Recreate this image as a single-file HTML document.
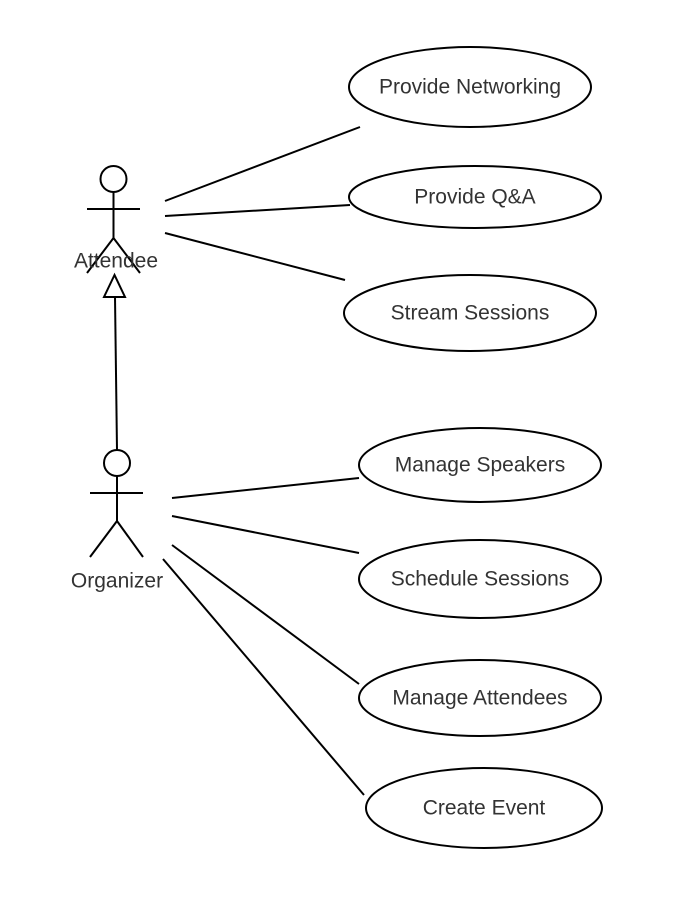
<!DOCTYPE html>
<html><head><meta charset="utf-8"><style>
html,body{margin:0;padding:0;background:#fff;width:692px;height:900px;overflow:hidden}
text{font-family:"Liberation Sans","DejaVu Sans",sans-serif;font-size:21px;fill:#333;text-anchor:middle;dominant-baseline:central}
</style></head><body>
<svg width="692" height="900" viewBox="0 0 692 900" xmlns="http://www.w3.org/2000/svg">
<g fill="none" stroke="#000" stroke-width="2">
<circle cx="113.5" cy="179" r="13"/>
<line x1="87" y1="209" x2="140" y2="209"/>
<line x1="113.5" y1="192" x2="113.5" y2="238"/>
<line x1="113.5" y1="238" x2="87" y2="273"/>
<line x1="113.5" y1="238" x2="140" y2="273"/>
<circle cx="117" cy="463" r="13"/>
<line x1="90" y1="493" x2="143" y2="493"/>
<line x1="117" y1="476" x2="117" y2="521"/>
<line x1="117" y1="521" x2="90" y2="557"/>
<line x1="117" y1="521" x2="143" y2="557"/>
<line x1="115" y1="297" x2="117" y2="450"/>
<polygon points="114.5,275 104,297 125,297" fill="#fff"/>
<ellipse cx="470" cy="87" rx="121" ry="40"/>
<ellipse cx="475" cy="197" rx="126" ry="31"/>
<ellipse cx="470" cy="313" rx="126" ry="38"/>
<ellipse cx="480" cy="465" rx="121" ry="37"/>
<ellipse cx="480" cy="579" rx="121" ry="39"/>
<ellipse cx="480" cy="698" rx="121" ry="38"/>
<ellipse cx="484" cy="808" rx="118" ry="40"/>
<line x1="165" y1="201" x2="360" y2="127"/>
<line x1="165" y1="216" x2="350" y2="205"/>
<line x1="165" y1="233" x2="345" y2="280"/>
<line x1="172" y1="498" x2="359" y2="478"/>
<line x1="172" y1="516" x2="359" y2="553"/>
<line x1="172" y1="545" x2="359" y2="684"/>
<line x1="163" y1="559" x2="364" y2="795"/>
</g>
<text x="116" y="261">Attendee</text>
<text x="117" y="581">Organizer</text>
<text x="470" y="87">Provide Networking</text>
<text x="475" y="197">Provide Q&amp;A</text>
<text x="470" y="313">Stream Sessions</text>
<text x="480" y="465">Manage Speakers</text>
<text x="480" y="579">Schedule Sessions</text>
<text x="480" y="698">Manage Attendees</text>
<text x="484" y="808">Create Event</text>
</svg>
</body></html>
